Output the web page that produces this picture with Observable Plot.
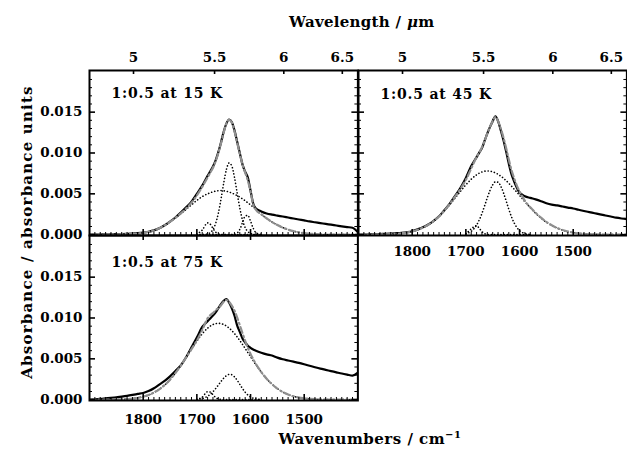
<!DOCTYPE html>
<html><head><meta charset="utf-8">
<script src="https://cdn.jsdelivr.net/npm/d3@7"></script>
<script src="https://cdn.jsdelivr.net/npm/@observablehq/plot@0.6"></script>
<style>
html,body{margin:0;padding:0;background:#fff;overflow:hidden}
#chart{position:relative;width:627px;height:459px;font-family:"DejaVu Serif",serif;font-weight:bold;color:#000;background:#fff}
.panel{position:absolute}
.title{position:absolute;white-space:nowrap;font-size:15px;line-height:15px}
</style></head><body><div id="chart"></div>
<script>
// wavenumber grid (cm^-1) shared by spectra, fits and broad components
const nuGrid = [1900,1890,1880,1870,1860,1850,1840,1830,1820,1810,1800,1790,1780,1770,1760,1750,1740,1730,1720,1710,1700,1690,
  1680,1675,1670,1665,1660,1655,1650,1645,1640,1635,1630,1625,1620,1615,1610,1605,1600,1595,1590,
  1580,1570,1560,1550,1540,1530,1520,1510,1500,1490,1480,1470,1460,1450,1440,1430,1420,1410,1400];
// grid for the narrow components
const nuMid = [1700,1690,1680,1675,1670,1665,1660,1655,1650,1645,1640,1635,1630,1625,1620,1615,1610,1605,1600,1595,1590,1580];

// all values in 10^-3 absorbance units
// 1:0.5 at 15 K
const data15 = [0,0,0.02,0.03,0.05,0.06,0.08,0.1,0.13,0.18,0.25,0.36,0.52,0.78,1.15,1.6,2.1,2.7,3.35,4.05,5.0,6.0,
  7.2,7.75,8.35,9.1,10.1,11.3,12.6,13.6,14.1,13.8,12.8,11.4,10.0,8.6,7.7,7.0,5.4,3.8,3.2,
  2.85,2.6,2.45,2.33,2.22,2.1,1.98,1.86,1.74,1.62,1.52,1.42,1.32,1.22,1.12,1.02,0.93,0.85,0.3];
const fit15 = [0,0,0.01,0.02,0.03,0.04,0.06,0.08,0.1,0.15,0.22,0.35,0.52,0.78,1.14,1.58,2.06,2.6,3.2,3.9,4.8,5.85,
  7.0,7.6,8.2,9.0,10.0,11.2,12.5,13.6,14.05,13.75,12.7,11.3,9.9,8.6,7.6,6.6,5.3,3.7,3.05,
  2.5,2.0,1.55,1.18,0.87,0.62,0.43,0.29,0.19,0.12,0.07,0.04,0.02,0.01,0,0,0,0,0];
const broad15 = [0,0,0,0,0,0,0.01,0.03,0.05,0.12,0.22,0.35,0.52,0.78,1.14,1.58,2.05,2.55,3.1,3.65,4.2,4.65,
  5.0,5.13,5.25,5.33,5.38,5.4,5.37,5.31,5.22,5.1,4.95,4.78,4.6,4.38,4.15,3.9,3.65,3.38,3.1,
  2.5,2.0,1.55,1.18,0.87,0.62,0.43,0.29,0.19,0.12,0.07,0.04,0.02,0,0,0,0,0,0];
const narrow15 = [0,0,0.09,0.25,0.63,1.38,2.62,4.36,6.31,7.97,8.78,8.42,7.05,5.14,3.27,1.81,0.87,0.37,0.14,0.05,0.01,0];
const small15a = [0.05,0.56,1.44,1.28,0.77,0.31,0.09,0.01,0,0,0,0,0,0,0,0,0,0,0,0,0,0];
const small15b = [0,0,0,0,0,0,0,0,0,0,0,0,0.03,0.19,0.65,1.48,2.27,2.36,1.66,0.79,0.25,0.01];

// 1:0.5 at 45 K
const data45 = [0,0,0.03,0.05,0.08,0.1,0.13,0.17,0.22,0.3,0.42,0.65,0.9,1.25,1.7,2.25,3.0,3.8,4.75,5.75,6.95,8.4,
  9.5,10.05,10.6,11.5,12.4,13.2,13.9,14.5,13.9,12.8,11.6,10.2,8.7,7.4,6.5,5.75,5.15,4.9,4.7,
  4.5,4.32,4.1,3.85,3.68,3.58,3.45,3.32,3.2,3.05,2.9,2.76,2.62,2.48,2.35,2.22,2.08,1.98,1.9];
const fit45 = [0,0,0.01,0.02,0.03,0.05,0.07,0.1,0.16,0.26,0.39,0.6,0.87,1.22,1.68,2.25,2.95,3.75,4.65,5.6,6.7,8.1,
  9.5,10.05,10.7,11.5,12.4,13.2,13.9,14.4,13.9,13.0,11.9,10.6,9.2,7.9,6.9,6.0,5.3,4.7,4.15,
  3.35,2.68,2.08,1.57,1.15,0.82,0.57,0.38,0.25,0.16,0.1,0.06,0.04,0.02,0.01,0,0,0,0];
const broad45 = [0,0,0.01,0.02,0.02,0.03,0.05,0.09,0.15,0.25,0.38,0.58,0.85,1.21,1.67,2.24,2.91,3.67,4.48,5.31,6.1,6.79,
  7.33,7.53,7.68,7.77,7.8,7.77,7.7,7.57,7.39,7.17,6.91,6.62,6.29,5.94,5.57,5.2,4.81,4.42,4.04,
  3.3,2.63,2.03,1.53,1.13,0.81,0.56,0.38,0.25,0.16,0.1,0.06,0.04,0.02,0.01,0,0,0,0];
const narrow45 = [0.11,0.41,1.18,1.81,2.61,3.55,4.53,5.43,6.11,6.47,6.42,5.95,5.14,4.15,3.12,2.19,1.44,0.88,0.5,0.27,0.13,0.03];
const small45 = [0.09,0.7,1.11,0.78,0.37,0.12,0.03,0,0,0,0,0,0,0,0,0,0,0,0,0,0,0];

// 1:0.5 at 75 K
const data75 = [0,0.05,0.1,0.15,0.22,0.3,0.38,0.47,0.58,0.7,0.82,1.05,1.4,1.85,2.3,2.85,3.5,4.2,5.2,6.4,7.6,8.9,
  9.6,9.95,10.3,10.7,11.2,11.7,12.1,12.3,11.9,11.2,10.3,9.1,8.3,7.5,7.0,6.6,6.35,6.15,6.0,
  5.75,5.55,5.4,5.15,4.95,4.8,4.65,4.5,4.33,4.15,3.97,3.8,3.65,3.5,3.35,3.2,3.07,2.95,3.3];
const fit75 = [0,0,0,0,0.01,0.02,0.04,0.07,0.13,0.23,0.37,0.57,0.87,1.27,1.79,2.45,3.25,4.16,5.16,6.19,7.24,8.52,
  9.95,10.35,10.6,10.94,11.22,11.56,12.0,12.2,12.0,11.52,10.91,10.08,9.12,8.14,7.19,6.35,5.6,4.95,4.37,
  3.39,2.57,1.9,1.36,0.94,0.63,0.41,0.26,0.16,0.1,0.06,0.03,0.02,0.01,0,0,0,0,0];
const broad75 = [0,0,0,0,0.01,0.02,0.04,0.07,0.13,0.23,0.37,0.57,0.87,1.27,1.79,2.45,3.25,4.16,5.16,6.18,7.18,8.06,
  8.75,9.0,9.2,9.31,9.35,9.31,9.2,9.02,8.77,8.46,8.1,7.69,7.24,6.77,6.27,5.77,5.27,4.77,4.28,
  3.37,2.57,1.9,1.36,0.94,0.63,0.41,0.26,0.16,0.1,0.06,0.03,0.02,0.01,0,0,0,0,0];
const narrow75 = [0.04,0.14,0.42,0.66,0.97,1.36,1.79,2.23,2.63,2.93,3.09,3.06,2.81,2.39,1.88,1.37,0.92,0.58,0.33,0.18,0.09,0.02];
const small75 = [0.02,0.32,0.97,0.93,0.61,0.27,0.08,0.02,0,0,0,0,0,0,0,0,0,0,0,0,0,0];

const panelLabels = ["1:0.5 at 15 K", "1:0.5 at 45 K", "1:0.5 at 75 K"];
const xTickValues = [1800, 1700, 1600, 1500];
const yTickValues = [0, 0.005, 0.010, 0.015];
const topTickLabels = ["5", "5.5", "6", "6.5"];
const topTickNu = [1818, 1667, 1538, 1429]; // positions of the wavelength labels (cm^-1)

const xMinor = d3.range(1410, 1900, 10).filter(d => d % 100 !== 0);
const yMinor = d3.range(1, 20).filter(k => k % 5 !== 0).map(k => k / 1000);
const rows = (nus, vals) => nus.map((nu, i) => ({nu, v: vals[i] / 1000}));
const W = 268.4, H = 165;

function panel(cfg) {
  const marks = [
    ...cfg.comps.map(c => Plot.line(rows(nuMid.length === c.length ? nuMid : nuGrid, c),
      {x: "nu", y: "v", curve: "monotone-x", stroke: "#000", strokeWidth: 1.6, strokeDasharray: "0.1 3.1", strokeLinecap: "round", clip: true})),
    Plot.line(rows(nuGrid, cfg.data), {x: "nu", y: "v", curve: "monotone-x", stroke: "#000", strokeWidth: 2.2, clip: true}),
    Plot.line(rows(nuGrid, cfg.fit), {x: "nu", y: "v", curve: "monotone-x", stroke: "#8f8f8f", strokeWidth: 2.2, strokeDasharray: "6 3 1.5 3", clip: true}),
    Plot.frame({stroke: "#000", strokeWidth: 2}),
    Plot.tickX(xTickValues, {x: d => d, insetTop: H - 6, strokeWidth: 1.6}),
    Plot.tickX(xMinor, {x: d => d, insetTop: H - 3, strokeWidth: 1}),
    Plot.tickY(yTickValues, {y: d => d, insetRight: W - 6, strokeWidth: 1.6}),
    Plot.tickY(yMinor, {y: d => d, insetRight: W - 3, strokeWidth: 1}),
    Plot.tickY(yTickValues, {y: d => d, insetLeft: W - 6, strokeWidth: 1.6}),
    Plot.tickY(yMinor, {y: d => d, insetLeft: W - 3, strokeWidth: 1})
  ];
  if (cfg.topWave) {
    const tops = topTickNu.map((nu, i) => ({nu, label: topTickLabels[i]}));
    marks.push(Plot.tickX(tops, {x: "nu", insetBottom: H - 4, strokeWidth: 1.6}));
    if (cfg.topLabels) marks.push(Plot.text(tops, {x: "nu", text: "label", frameAnchor: "top", dy: -8, lineAnchor: "bottom"}));
  } else {
    marks.push(Plot.tickX(xTickValues, {x: d => d, insetBottom: H - 5, strokeWidth: 1.6}));
  }
  if (cfg.bottomLabels) marks.push(Plot.text(xTickValues, {x: d => d, text: d => String(d), frameAnchor: "bottom", dy: cfg.bottomDy, lineAnchor: "top"}));
  if (cfg.leftLabels) marks.push(Plot.text(yTickValues, {y: d => d, text: d => d3.format(".3f")(d), frameAnchor: "left", dx: -7, textAnchor: "end", lineAnchor: "middle"}));
  marks.push(Plot.text([cfg.label], {frameAnchor: "top-left", dx: 22, dy: cfg.labelDy, text: d => d, textAnchor: "start", lineAnchor: "middle", fontSize: 14}));

  const svg = Plot.plot({
    width: cfg.ml + W + cfg.mr, height: cfg.mt + H + cfg.mb,
    marginLeft: cfg.ml, marginRight: cfg.mr, marginTop: cfg.mt, marginBottom: cfg.mb,
    x: {type: "linear", domain: [1900, 1400], axis: null},
    y: {type: "linear", domain: [-0.0001, 0.0201], axis: null},
    style: {fontFamily: "DejaVu Serif", fontSize: "13.5px", fontWeight: "bold", background: "none", overflow: "visible", color: "#000"},
    marks
  });
  const g = svg.querySelectorAll('g[aria-label="text"]');
  const last = g[g.length - 1];
  if (last) last.style.letterSpacing = "0.8px";
  svg.classList.add("panel");
  svg.style.left = cfg.left + "px";
  svg.style.top = cfg.top + "px";
  return svg;
}

const chart = document.getElementById("chart");
chart.appendChild(panel({data: data15, fit: fit15, comps: [broad15, narrow15, small15a, small15b], label: panelLabels[0],
  topWave: true, topLabels: true, leftLabels: true, bottomLabels: false, labelDy: 23,
  ml: 60, mr: 3, mt: 32, mb: 3, left: 89.3 - 60, top: 69.5 - 32}));
chart.appendChild(panel({data: data45, fit: fit45, comps: [broad45, narrow45, small45], label: panelLabels[1],
  topWave: true, topLabels: true, leftLabels: false, bottomLabels: true, bottomDy: 11, labelDy: 24,
  ml: 3, mr: 0, mt: 32, mb: 30, left: 358.3 - 3, top: 69.5 - 32}));
chart.appendChild(panel({data: data75, fit: fit75, comps: [broad75, narrow75, small75], label: panelLabels[2],
  topWave: false, topLabels: false, leftLabels: true, bottomLabels: true, bottomDy: 14, labelDy: 27,
  ml: 60, mr: 3, mt: 3, mb: 30, left: 89.3 - 60, top: 234.5 - 3}));

function addTitle(html, css) {
  const d = document.createElement("div");
  d.className = "title";
  d.innerHTML = html;
  Object.assign(d.style, css);
  chart.appendChild(d);
}
addTitle('Wavelength / <i>μ</i>m', {left: "361.7px", top: "14.5px", transform: "translateX(-50%)", letterSpacing: "0.3px"});
addTitle('Wavenumbers / cm<span style="font-size:10px;position:relative;top:-6px">−1</span>', {left: "370px", top: "432.3px", transform: "translateX(-50%)", letterSpacing: "0.5px"});
addTitle('Absorbance / absorbance units', {left: "27.3px", top: "232px", transform: "translate(-50%,-50%) rotate(-90deg)", letterSpacing: "1.2px"});
</script></body></html>
